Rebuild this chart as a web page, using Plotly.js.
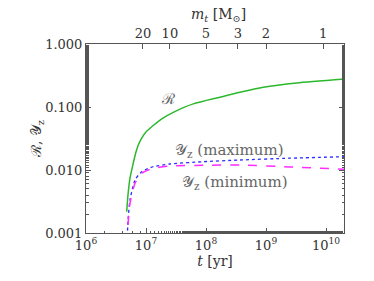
<!DOCTYPE html>
<html>
<head>
<meta charset="utf-8">
<script src="https://cdn.plot.ly/plotly-3.0.1.min.js"></script>
<style>html,body{margin:0;padding:0;background:#fff;}#chart{width:374px;height:281px;}</style>
</head>
<body>
<div id="chart"></div>
<script>
// Data
const tR = [4.77e6, 5.01e6, 5.41e6, 6.14e6, 6.81e6, 7.44e6, 8.48e6, 1.0e7, 1.32e7, 1.92e7, 2.85e7, 6.14e7, 1.71e8, 3.69e8, 9.02e8, 3.25e9, 2.07e10];
const yR = [0.00218, 0.00401, 0.00746, 0.0129, 0.0193, 0.0250, 0.0322, 0.0401, 0.0508, 0.0668, 0.0824, 0.112, 0.143, 0.171, 0.205, 0.240, 0.278];

const tMax = [4.85e6, 5.0e6, 5.41e6, 6.56e6, 8.47e6, 1.32e7, 2.51e7, 9.02e7, 3.69e8, 2.5e9, 2.07e10];
const yMax = [0.0007, 0.0015, 0.00334, 0.00693, 0.0094, 0.01127, 0.01245, 0.01355, 0.0144, 0.0154, 0.01626];

const tMin = [4.85e6, 5.0e6, 5.41e6, 6.56e6, 8.47e6, 1.32e7, 2.51e7, 1.0e8, 3.69e8, 2.5e9, 2.07e10];
const yMin = [0.0007, 0.0013, 0.00296, 0.00615, 0.00887, 0.01064, 0.01156, 0.0119, 0.0120, 0.0112, 0.01025];

// Top axis: stellar mass labels at their lifetimes
const massLabels = ['20', '10', '5', '3', '2', '1'];
const massLifetimes = [8.9e6, 2.5e7, 1.0e8, 3.4e8, 1.0e9, 9.0e9];

const yTickVals = [0.001, 0.01, 0.1, 1];
const yTickText = ['0.001', '0.010', '0.100', '1.000'];
const xTickVals = [1e6, 1e7, 1e8, 1e9, 1e10];
const xTickText = ['10<sup>6</sup>', '10<sup>7</sup>', '10<sup>8</sup>', '10<sup>9</sup>', '10<sup>10</sup>'];

const axCol = '#555';
const txtCol = '#333';
const fam = "'DejaVu Serif', 'Liberation Serif', serif";
const tf = {family: fam, size: 13, color: txtCol};

const traces = [
  {x: tR, y: yR, mode: 'lines', line: {color: '#2cb82c', width: 1.5, shape: 'spline', smoothing: 0.6}, hoverinfo: 'skip', showlegend: false},
  {x: tMax, y: yMax, mode: 'lines', line: {color: '#2b2bff', width: 1.3, dash: 'dot', shape: 'spline', smoothing: 0.6}, hoverinfo: 'skip', showlegend: false},
  {x: tMin, y: yMin, mode: 'lines', line: {color: '#ff2bff', width: 1.5, dash: 'dash', shape: 'spline', smoothing: 0.6}, hoverinfo: 'skip', showlegend: false},
  {x: massLifetimes, y: massLifetimes.map(() => 0.0001), xaxis: 'x2', mode: 'markers', marker: {opacity: 0}, hoverinfo: 'skip', showlegend: false}
];

const layout = {
  width: 374, height: 281,
  margin: {l: 86, r: 30, t: 44, b: 48},
  paper_bgcolor: '#fff', plot_bgcolor: '#fff',
  font: tf,
  xaxis: {
    type: 'log', range: [6, 10.3],
    tickvals: xTickVals, ticktext: xTickText,
    ticks: 'inside', ticklen: 5, tickcolor: axCol,
    minor: {ticks: 'inside', ticklen: 2.5, tickcolor: axCol, showgrid: false},
    showline: true, linecolor: axCol, linewidth: 1, mirror: false,
    showgrid: false, zeroline: false,
    tickfont: tf,
    title: {text: '<i>t</i> [yr]', font: {family: fam, size: 14, color: txtCol}, standoff: 1}
  },
  xaxis2: {
    type: 'log', range: [6, 10.3], overlaying: 'x', side: 'top', anchor: 'y',
    tickvals: massLifetimes, ticktext: massLabels,
    ticks: 'inside', ticklen: 5, tickcolor: axCol,
    showline: true, linecolor: axCol, linewidth: 1,
    showgrid: false, zeroline: false,
    tickfont: tf
  },
  yaxis: {
    type: 'log', range: [-3, 0],
    tickvals: yTickVals, ticktext: yTickText,
    ticks: 'inside', ticklen: 5, tickcolor: axCol,
    minor: {ticks: 'inside', ticklen: 2.5, tickcolor: axCol, showgrid: false},
    showline: true, linecolor: axCol, linewidth: 1, mirror: 'ticks',
    showgrid: false, zeroline: false,
    tickfont: tf,
    title: {text: 'ℛ, 𝒴<sub>z</sub>', font: {family: fam, size: 14, color: txtCol}, standoff: 0}
  },
  annotations: [
    {xref: 'paper', yref: 'paper', xanchor: 'center', yanchor: 'middle', x: (218 - 86) / 258, y: (233 - 15) / 189,
     text: '<i>m<sub>t</sub></i> [M<sub>⊙</sub>]', showarrow: false,
     font: {family: fam, size: 14, color: txtCol}},
    {xref: 'paper', yref: 'paper', xanchor: 'center', yanchor: 'middle', x: (168 - 86) / 258, y: (233 - 99) / 189,
     text: 'ℛ', showarrow: false,
     font: {family: fam, size: 15, color: '#666'}},
    {xref: 'paper', yref: 'paper', xanchor: 'center', yanchor: 'middle', x: (229 - 86) / 258, y: (233 - 150) / 189,
     text: '𝒴<sub>z</sub> (maximum)', showarrow: false,
     font: {family: fam, size: 15, color: '#666'}},
    {xref: 'paper', yref: 'paper', xanchor: 'center', yanchor: 'middle', x: (235 - 86) / 258, y: (233 - 182) / 189,
     text: '𝒴<sub>z</sub> (minimum)', showarrow: false,
     font: {family: fam, size: 15, color: '#666'}}
  ]
};

Plotly.newPlot('chart', traces, layout, {staticPlot: true, displayModeBar: false});
</script>
</body>
</html>
